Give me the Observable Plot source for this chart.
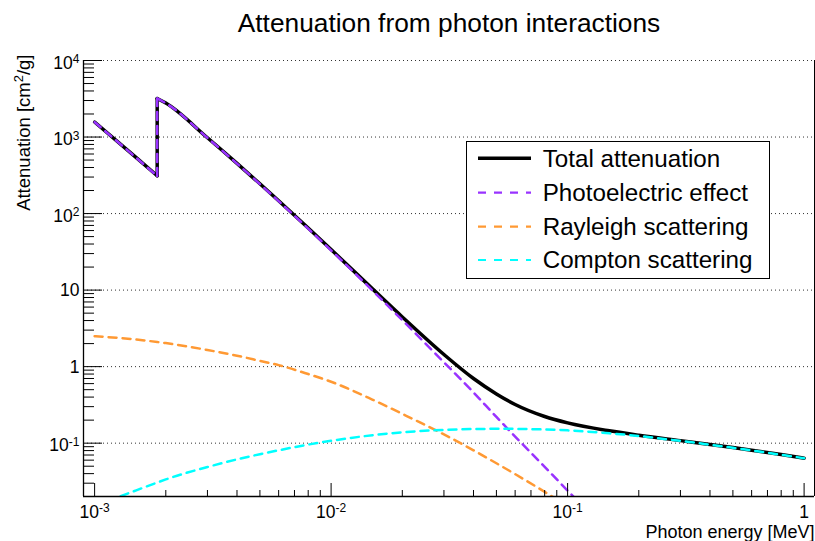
<!DOCTYPE html>
<html>
<head>
<meta charset="utf-8">
<script src="https://cdn.jsdelivr.net/npm/d3@7"></script>
<script src="https://cdn.jsdelivr.net/npm/@observablehq/plot@0.6"></script>
<style>
  html, body { margin: 0; padding: 0; background: white; }
  #wrap { position: relative; width: 815px; height: 541px; font-family: 'Liberation Sans', Arial, Helvetica, sans-serif; }
  #legend { position: absolute; left: 466px; top: 141px; }
</style>
</head>
<body>
<div id="wrap"></div>
<script>
// Photon energy grid [MeV] (duplicate entry = K absorption edge)
const energy = [0.001, 0.0015, 0.001839, 0.001839, 0.002, 0.003, 0.004, 0.005, 0.006, 0.008,
                0.01, 0.015, 0.02, 0.03, 0.04, 0.05, 0.06, 0.08, 0.1,
                0.15, 0.2, 0.3, 0.4, 0.5, 0.6, 0.8, 1.0];
// Attenuation [cm^2/g]
const totalAtt = [1570, 537, 312, 3192, 2777, 978, 453, 245, 147, 64.7,
                  33.9, 10.3, 4.46, 1.44, 0.70, 0.44, 0.32, 0.223, 0.184,
                  0.145, 0.127, 0.108, 0.0963, 0.0877, 0.0809, 0.0709, 0.0636];
const photoelectric = [1567, 535, 310, 3190, 2770, 975, 450, 243, 145.5, 63.6,
                       33.1, 9.8, 4.05, 1.14, 0.46, 0.22, 0.122, 0.049, 0.024,
                       0.0066, 0.0027, 0.0008, 0.00031, 0.00016, 0.000093, 0.000039, 0.00002];
const rayleigh = [2.50, 2.26, 2.10, 2.10, 2.03, 1.65, 1.39, 1.19, 1.047, 0.80,
                  0.635, 0.369, 0.2415, 0.130, 0.0807, 0.0546, 0.0394, 0.0231, 0.0151,
                  0.0069, 0.0039, 0.00175, 0.00099, 0.00063, 0.00044, 0.00025, 0.00016];
const compton = [0.0149, 0.0242, 0.0306, 0.0306, 0.0336, 0.0488, 0.0614, 0.0718, 0.0807, 0.0959,
                 0.1073, 0.1272, 0.1387, 0.149, 0.153, 0.154, 0.1537, 0.151, 0.147,
                 0.1345, 0.124, 0.107, 0.0955, 0.0870, 0.0805, 0.0705, 0.0636];

const seriesNames = ["Total attenuation", "Photoelectric effect", "Rayleigh scattering", "Compton scattering"];
const seriesColors = ["#000000", "#9933ff", "#ff9933", "#00ffff"];

const yMajor = [0.1, 1, 10, 100, 1000, 10000];
const xMajor = [0.001, 0.01, 0.1, 1];

const titleText = "Attenuation from photon interactions";
const xTitle = "Photon energy [MeV]";
const yTitle = "Attenuation [cm²/g]";

// ---- build ----
const W = 815, H = 541, mL = 83, mR = 1, mT = 60, mB = 45;
const plotW = W - mL - mR, plotH = H - mT - mB;
const xDomain = [Math.pow(10, -3.047), Math.pow(10, 0.044)];
const yDomain = [0.0201, 10000];

const edgeIndex = 3; // first point above the absorption edge
const rows = energy.map((e, i) => ({e, seg: i < edgeIndex ? "below" : "above",
  total: totalAtt[i], photo: photoelectric[i], rayleigh: rayleigh[i], compton: compton[i]}));
const edgeRows = rows.slice(edgeIndex - 1, edgeIndex + 1);
const smoothRows = rows.filter((d, i) => i !== edgeIndex);

const yMinor = [];
for (const d of [0.01, 0.1, 1, 10, 100, 1000]) for (let k = 2; k <= 9; k++) { const v = k * d; if (v > yDomain[0] && v < yDomain[1]) yMinor.push(v); }
const xMinor = [];
for (const d of [0.001, 0.01, 0.1]) for (let k = 2; k <= 9; k++) { const v = k * d; if (v > xDomain[0] && v < xDomain[1]) xMinor.push(v); }

const fmt = d => { const e = Math.round(Math.log10(d)); return e === 0 ? "1" : e === 1 ? "10" : "10^" + e; };
const font = "'Liberation Sans', Arial, Helvetica, sans-serif";
const dash = "8,6";

const svg = Plot.plot({
  width: W, height: H,
  marginLeft: mL, marginRight: mR, marginTop: mT, marginBottom: mB,
  style: {fontFamily: font, fontSize: "17.5px", background: "white", color: "black", overflow: "visible"},
  x: {type: "log", domain: xDomain},
  y: {type: "log", domain: yDomain},
  marks: [
    Plot.ruleY(yMajor, {y: d => d, stroke: "#333", strokeWidth: 1, strokeDasharray: "1,3"}),
    // total attenuation
    Plot.line(rows, {x: "e", y: "total", z: "seg", curve: "monotone-x", stroke: seriesColors[0], strokeWidth: 3.5, strokeLinecap: "round", clip: true}),
    Plot.line(edgeRows, {x: "e", y: "total", stroke: seriesColors[0], strokeWidth: 3.5, strokeLinecap: "round", clip: true}),
    // photoelectric
    Plot.line(rows, {x: "e", y: "photo", z: "seg", curve: "monotone-x", stroke: seriesColors[1], strokeWidth: 2.5, strokeDasharray: dash, clip: true}),
    Plot.line(edgeRows, {x: "e", y: "photo", stroke: seriesColors[1], strokeWidth: 2.5, strokeDasharray: dash, clip: true}),
    // scattering
    Plot.line(smoothRows, {x: "e", y: "rayleigh", curve: "monotone-x", stroke: seriesColors[2], strokeWidth: 2.5, strokeDasharray: dash, clip: true}),
    Plot.line(smoothRows, {x: "e", y: "compton", curve: "monotone-x", stroke: seriesColors[3], strokeWidth: 2.5, strokeDasharray: dash, clip: true}),
    // frame
    Plot.ruleX([xDomain[0]], {x: d => d, stroke: "black", strokeWidth: 1.3}),
    Plot.ruleX([xDomain[1]], {x: d => d, stroke: "black", strokeWidth: 1}),
    Plot.ruleY([yDomain[0]], {y: d => d, stroke: "black", strokeWidth: 1.3}),
    // inside ticks
    Plot.tickY(yMajor, {y: d => d, insetRight: plotW - 19, stroke: "black", strokeWidth: 1}),
    Plot.tickY(yMinor, {y: d => d, insetRight: plotW - 11, stroke: "black", strokeWidth: 1}),
    Plot.tickX(xMajor, {x: d => d, insetTop: plotH - 13, stroke: "black", strokeWidth: 1}),
    Plot.tickX(xMinor, {x: d => d, insetTop: plotH - 6, stroke: "black", strokeWidth: 1}),
    // labels
    Plot.axisY(yMajor, {tickSize: 0, tickPadding: 4, tickFormat: fmt, label: null, fontSize: 17.5}),
    Plot.axisX(xMajor, {tickSize: 0, tickPadding: 0, tickFormat: fmt, label: null, fontSize: 17.5}),
    Plot.text([titleText], {text: d => d, frameAnchor: "top", lineAnchor: "bottom", dy: -28.3, fontSize: 26.3}),
    Plot.text([xTitle], {text: d => d, frameAnchor: "bottom-right", textAnchor: "end", lineAnchor: "bottom", dy: 41, fontSize: 18}),
    Plot.text([yTitle], {text: d => d, frameAnchor: "top-left", textAnchor: "end", lineAnchor: "bottom", rotate: -90, dx: -54, dy: -6, fontSize: 18.5})
  ]
});

const NS = "http://www.w3.org/2000/svg";
function tspan(txt, attrs) {
  const t = document.createElementNS(NS, "tspan");
  t.textContent = txt;
  for (const k in attrs) t.setAttribute(k, attrs[k]);
  return t;
}
// superscript exponents in tick labels
function fixLabels(sel, baseSup, basePlain) {
  svg.querySelectorAll(sel).forEach(t => {
    const s = t.textContent;
    t.removeAttribute("dy");
    const m = s.match(/^10\^(-?\d+)$/);
    if (m) {
      t.textContent = "";
      t.appendChild(tspan("10", {}));
      t.appendChild(tspan(m[1], {"font-size": 12, dy: -5.5}));
      t.setAttribute("y", baseSup);
    } else {
      t.setAttribute("y", basePlain);
    }
  });
}
fixLabels('g[aria-label="y-axis tick label"] text', 8, 6);
fixLabels('g[aria-label="x-axis tick label"] text', 21, 21);

// superscript in the y title
svg.querySelectorAll("text").forEach(t => {
  if (t.textContent === yTitle) {
    const [a, b] = yTitle.split("²");
    t.textContent = "";
    t.appendChild(tspan(a, {}));
    t.appendChild(tspan("2", {"font-size": 13, dy: -6.5}));
    t.appendChild(tspan(b, {dy: 6.5}));
  }
});

const wrap = document.getElementById("wrap");
wrap.appendChild(svg);

// legend
const lg = document.createElementNS(NS, "svg");
lg.setAttribute("id", "legend");
lg.setAttribute("width", 305); lg.setAttribute("height", 139);
lg.setAttribute("font-family", font);
const box = document.createElementNS(NS, "rect");
box.setAttribute("x", 0.5); box.setAttribute("y", 0.5); box.setAttribute("width", 303); box.setAttribute("height", 137);
box.setAttribute("fill", "white"); box.setAttribute("stroke", "black"); box.setAttribute("stroke-width", 1);
lg.appendChild(box);
const rowY = [17.3, 51.7, 85.7, 119];
seriesNames.forEach((name, i) => {
  const ln = document.createElementNS(NS, "line");
  ln.setAttribute("x1", 12); ln.setAttribute("x2", 65);
  ln.setAttribute("y1", rowY[i]); ln.setAttribute("y2", rowY[i]);
  ln.setAttribute("stroke", seriesColors[i]);
  ln.setAttribute("stroke-width", i === 0 ? 3.5 : 2.2);
  if (i > 0) ln.setAttribute("stroke-dasharray", "8,8");
  lg.appendChild(ln);
  const tx = document.createElementNS(NS, "text");
  tx.setAttribute("x", 76.7); tx.setAttribute("y", rowY[i] + 8.3);
  tx.setAttribute("font-size", 24.2);
  tx.textContent = name;
  lg.appendChild(tx);
});
wrap.appendChild(lg);
</script>
</body>
</html>
